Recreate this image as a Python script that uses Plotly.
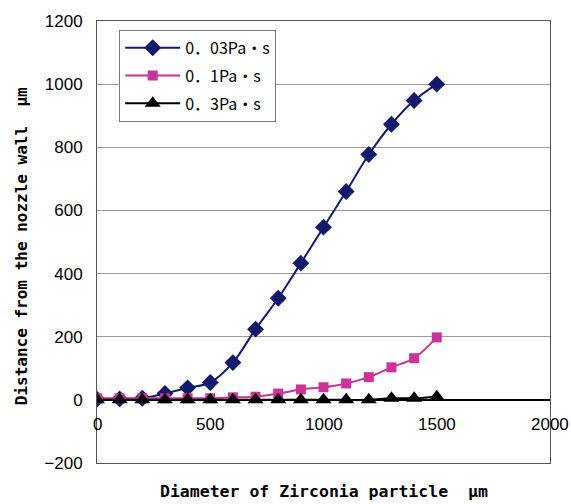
import plotly.graph_objects as go

diameters = [0, 100, 200, 300, 400, 500, 600, 700, 800, 900, 1000, 1100, 1200, 1300, 1400, 1500]
dist_003 = [2, 3, 5, 20, 38, 55, 118, 224, 322, 433, 547, 660, 777, 873, 948, 1000]
dist_01 = [5, 5, 5, 5, 5, 5, 8, 10, 20, 33, 40, 52, 72, 103, 132, 198]
dist_03 = [0, 0, 0, 0, 0, 0, 0, 0, 0, 0, 0, 0, 0, 5, 5, 10]

series_names = ["0．03Pa・s", "0．1Pa・s", "0．3Pa・s"]
x_ticks = [0, 500, 1000, 1500, 2000]
y_ticks = [-200, 0, 200, 400, 600, 800, 1000, 1200]

navy = "#141a6b"
pink = "#cc3399"
black = "#000000"

fig = go.Figure()
fig.add_trace(go.Scatter(x=diameters, y=dist_003, name=series_names[0], legendgroup="a",
                         mode="lines+markers", line=dict(color=navy, width=2, shape="spline"),
                         marker=dict(symbol="diamond", size=13, color=navy)))
fig.add_trace(go.Scatter(x=diameters, y=dist_01, name=series_names[1], legendgroup="b",
                         mode="lines+markers", line=dict(color=pink, width=2, shape="spline"),
                         marker=dict(symbol="square", size=10, color=pink)))
fig.add_trace(go.Scatter(x=diameters, y=dist_03, name=series_names[2], legendgroup="c",
                         mode="lines+markers", line=dict(color=black, width=2, shape="spline"),
                         marker=dict(symbol="triangle-up", size=14, color=black)))

for t in x_ticks:
    fig.add_annotation(x=t, y=0, xref="x", yref="y", text=str(t), showarrow=False,
                       yshift=-25, font=dict(family="Liberation Sans", size=17, color="black"))

fig.add_annotation(x=0.5, y=-0.065, xref="paper", yref="paper",
                   text="<b>Diameter of Zirconia particle  μm</b>",
                   showarrow=False, yanchor="middle", xanchor="center",
                   font=dict(family="DejaVu Sans Mono", size=16.5, color="black"))
fig.add_annotation(x=-0.166, y=0.49, xref="paper", yref="paper",
                   text="<b>Distance from the nozzle wall  μm</b>",
                   showarrow=False, textangle=-90, xanchor="center", yanchor="middle",
                   font=dict(family="DejaVu Sans Mono", size=16, color="black"))

fig.update_layout(
    width=571, height=504,
    margin=dict(l=97, r=21, t=19, b=41),
    plot_bgcolor="white", paper_bgcolor="white",
    showlegend=True,
    legend=dict(x=0.049, y=0.98, xanchor="left", yanchor="top",
                bordercolor="#777", borderwidth=1, bgcolor="white",
                font=dict(family="Noto Sans CJK JP", size=16, color="black"),
                itemwidth=55, traceorder="grouped", tracegroupgap=4),
    xaxis=dict(range=[0, 2000], showgrid=False, zeroline=False, showticklabels=False,
               showline=True, mirror=True, linecolor="#555", linewidth=1, ticks=""),
    yaxis=dict(range=[-200, 1200], tickvals=y_ticks, showgrid=True, gridcolor="#9a9a9a",
               gridwidth=1, zeroline=True, zerolinecolor="black", zerolinewidth=1.5,
               showline=True, mirror=True, linecolor="#555", linewidth=1, ticks="",
               ticklabelstandoff=10,
               tickfont=dict(family="Liberation Sans", size=17, color="black")),
)

fig.write_html("out.html", config={"displayModeBar": False},
               post_script="document.body.style.margin='0';document.body.style.overflow='hidden';")
